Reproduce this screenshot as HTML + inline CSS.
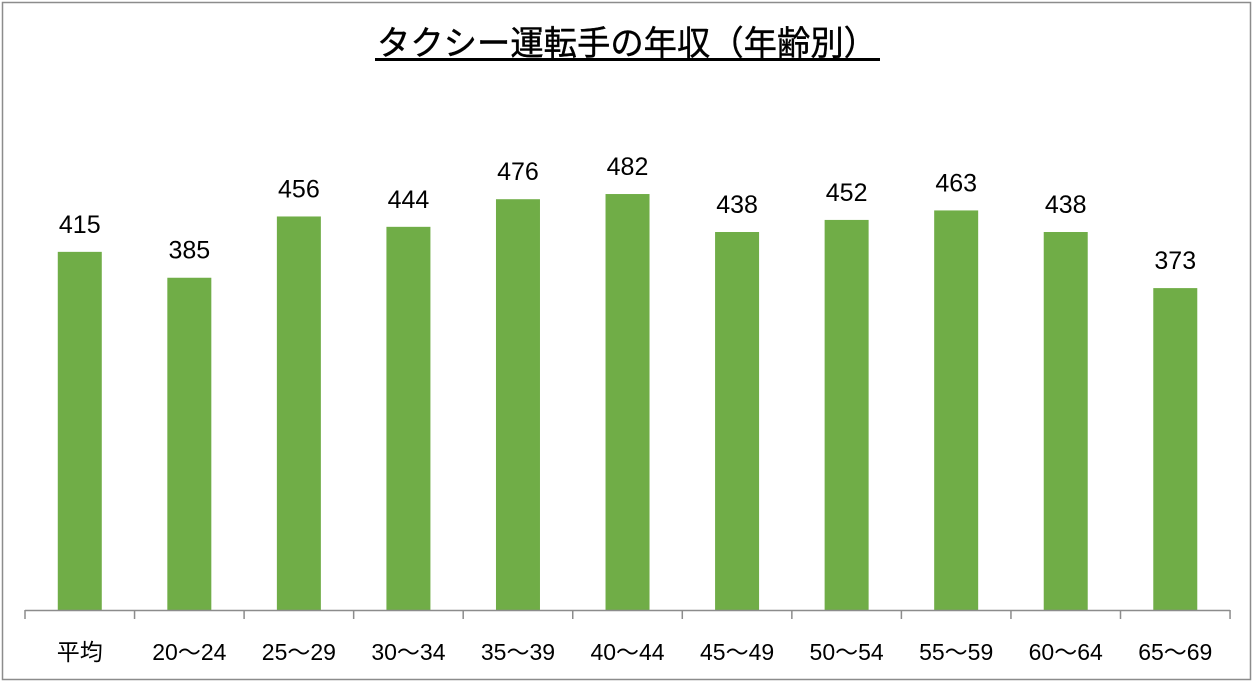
<!DOCTYPE html>
<html><head><meta charset="utf-8"><style>
html,body{margin:0;padding:0;background:#fff;}
svg{display:block;}
text{font-family:"Liberation Sans","Noto Sans CJK JP",sans-serif;}
</style></head><body>
<svg width="1254" height="683" viewBox="0 0 1254 683" xmlns="http://www.w3.org/2000/svg">
<rect x="2.5" y="2.5" width="1248" height="677" fill="#fff" stroke="#8c8c8c" stroke-width="1.5"/>
<text x="377" y="55" font-size="34" fill="#000" stroke="#000" stroke-width="0.4" textLength="500" lengthAdjust="spacingAndGlyphs">タクシー運転手の年収（年齢別）</text>
<rect x="375" y="58" width="505" height="3" fill="#000"/>
<g id="bars" fill="#70ad47"></g>
<g id="lbl" font-size="25" fill="#000" text-anchor="middle"></g>
<line x1="25" y1="610.5" x2="1230" y2="610.5" stroke="#8c8c8c" stroke-width="1.5"/>
<g id="ticks" stroke="#8c8c8c" stroke-width="1.5"></g>
<g id="cat" font-size="23" fill="#000" text-anchor="middle"></g>
</svg>
<script>
var v=[415,385,456,444,476,482,438,452,463,438,373];
var c=["平均","20〜24","25〜29","30〜34","35〜39","40〜44","45〜49","50〜54","55〜59","60〜64","65〜69"];
var ns="http://www.w3.org/2000/svg",sp=109.55,k=0.863,base=610;
function el(t,a,p,tx){var e=document.createElementNS(ns,t);for(var i in a)e.setAttribute(i,a[i]);if(tx)e.textContent=tx;document.getElementById(p).appendChild(e);}
for(var i=0;i<11;i++){var cx=25+sp*(i+0.5),h=v[i]*k;
el("rect",{x:cx-22,y:base-h,width:44,height:h},"bars");
el("text",{x:cx,y:base-h-19},"lbl",String(v[i]));
el("text",{x:cx,y:660},"cat",c[i]);}
for(var i=0;i<=11;i++){var x=25+sp*i;el("line",{x1:x,y1:610,x2:x,y2:619},"ticks");}
</script>
</body></html>
